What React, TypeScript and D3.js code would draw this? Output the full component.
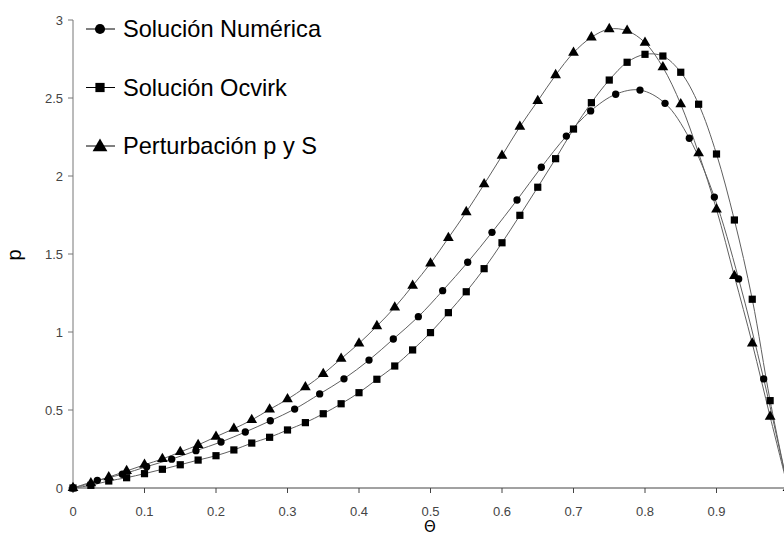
import { useEffect, useRef } from "react";
import * as d3 from "d3";

// x positions of the numeric solution (30 nodes)
const xNumerica = [0, 0.034, 0.069, 0.103, 0.138, 0.172, 0.207, 0.241, 0.276, 0.31,
  0.345, 0.379, 0.414, 0.448, 0.483, 0.517, 0.552, 0.586, 0.621, 0.655,
  0.69, 0.724, 0.759, 0.793, 0.828, 0.862, 0.897, 0.931, 0.966, 1];
const pNumerica = [0, 0.049, 0.088, 0.137, 0.185, 0.239, 0.295, 0.359, 0.431, 0.506,
  0.603, 0.7, 0.82, 0.955, 1.098, 1.265, 1.447, 1.639, 1.846, 2.056,
  2.256, 2.417, 2.524, 2.551, 2.466, 2.242, 1.865, 1.34, 0.699, 0];

// x positions of the other two series (41 nodes)
const xFine = [0, 0.025, 0.05, 0.075, 0.1, 0.125, 0.15, 0.175, 0.2, 0.225,
  0.25, 0.275, 0.3, 0.325, 0.35, 0.375, 0.4, 0.425, 0.45, 0.475,
  0.5, 0.525, 0.55, 0.575, 0.6, 0.625, 0.65, 0.675, 0.7, 0.725,
  0.75, 0.775, 0.8, 0.825, 0.85, 0.875, 0.9, 0.925, 0.95, 0.975, 1];
const pOcvirk = [0, 0.017, 0.045, 0.066, 0.092, 0.12, 0.149, 0.179, 0.207, 0.244,
  0.288, 0.325, 0.372, 0.419, 0.476, 0.54, 0.611, 0.697, 0.782, 0.885,
  0.996, 1.124, 1.258, 1.406, 1.572, 1.748, 1.928, 2.111, 2.301, 2.47,
  2.615, 2.729, 2.78, 2.769, 2.665, 2.46, 2.141, 1.718, 1.21, 0.56, 0];
const pPerturb = [0, 0.031, 0.07, 0.109, 0.149, 0.186, 0.231, 0.276, 0.329, 0.38,
  0.436, 0.504, 0.569, 0.646, 0.731, 0.829, 0.927, 1.038, 1.158, 1.297,
  1.44, 1.603, 1.769, 1.947, 2.13, 2.316, 2.481, 2.647, 2.79, 2.889,
  2.942, 2.931, 2.855, 2.697, 2.46, 2.146, 1.786, 1.359, 0.927, 0.457, 0];

const xTicks = [0, 0.1, 0.2, 0.3, 0.4, 0.5, 0.6, 0.7, 0.8, 0.9];
const yTicks = [0, 0.5, 1, 1.5, 2, 2.5, 3];
const legendNames = ["Solución Numérica", "Solución Ocvirk", "Perturbación p y S"];

type Pt = [number, number];
const zip = (xs: number[], ys: number[]): Pt[] => xs.map((x, i) => [x, ys[i]]);

export default function App() {
  const ref = useRef<SVGSVGElement>(null);

  useEffect(() => {
    const svg = d3.select(ref.current);
    svg.selectAll("*").remove();

    const x = d3.scaleLinear().domain([0, 1]).range([73, 788]);
    const y = d3.scaleLinear().domain([0, 3]).range([488, 20]);
    const font = "'Liberation Sans', Arial, sans-serif";

    // axes
    const xAxis = svg.append("g").attr("transform", `translate(0,${y(0)})`);
    xAxis.append("line").attr("x1", x(0)).attr("x2", 784).attr("stroke", "#444");
    xAxis.selectAll("g.t").data(xTicks).enter().append("g")
      .attr("transform", d => `translate(${x(d)},0)`)
      .each(function (d) {
        const g = d3.select(this);
        g.append("line").attr("y2", 5).attr("stroke", "#444");
        g.append("text").attr("y", 28).attr("text-anchor", "middle")
          .attr("font-family", font).attr("font-size", 13).attr("fill", "#444")
          .text(String(d));
      });

    const yAxis = svg.append("g").attr("transform", `translate(${x(0)},0)`);
    yAxis.append("line").attr("y1", y(3)).attr("y2", y(0)).attr("stroke", "#777");
    yAxis.selectAll("g.t").data(yTicks).enter().append("g")
      .attr("transform", d => `translate(0,${y(d)})`)
      .each(function (d) {
        const g = d3.select(this);
        g.append("line").attr("x2", -5).attr("stroke", "#777");
        g.append("text").attr("x", -10).attr("dy", "0.35em").attr("text-anchor", "end")
          .attr("font-family", font).attr("font-size", 13).attr("fill", "#444")
          .text(String(d));
      });

    svg.append("text").attr("transform", "translate(21,255) rotate(-90)")
      .attr("text-anchor", "middle").attr("font-family", font).attr("font-size", 20)
      .text("p");
    svg.append("text").attr("x", 430).attr("y", 532).attr("text-anchor", "middle")
      .attr("font-family", "'DejaVu Sans', sans-serif").attr("font-size", 15)
      .text("Θ");

    // series
    const line = d3.line<Pt>().x(d => x(d[0])).y(d => y(d[1])).curve(d3.curveCatmullRom);
    const plot = svg.append("g");
    const series = [zip(xNumerica, pNumerica), zip(xFine, pOcvirk), zip(xFine, pPerturb)];
    const shapes = [d3.symbolCircle, d3.symbolSquare, d3.symbolTriangle];
    const sizes = [42, 52, 50];
    const bigSizes = [80, 85, 95];

    series.forEach(data => {
      plot.append("path").attr("d", line(data)).attr("fill", "none")
        .attr("stroke", "#606060").attr("stroke-width", 1);
    });
    series.forEach((data, k) => {
      plot.selectAll(`path.m${k}`).data(data).enter().append("path")
        .attr("class", `m${k}`)
        .attr("transform", d => `translate(${x(d[0])},${y(d[1])})`)
        .attr("d", d3.symbol().type(shapes[k]).size(sizes[k])()!)
        .attr("fill", "#000");
    });

    // legend
    const legend = svg.append("g");
    legendNames.forEach((name, k) => {
      const cy = 29 + k * 58.5;
      legend.append("line").attr("x1", 86).attr("x2", 115).attr("y1", cy).attr("y2", cy)
        .attr("stroke", "#000");
      legend.append("path").attr("transform", `translate(100,${cy + (k === 2 ? 1 : 0)})`)
        .attr("d", d3.symbol().type(shapes[k]).size(bigSizes[k])()!).attr("fill", "#000");
      legend.append("text").attr("x", 123).attr("y", cy).attr("dy", "0.36em")
        .attr("font-family", font).attr("font-size", 23.6).attr("fill", "#000").text(name);
    });
  }, []);

  return (
    <div style={{ position: "fixed", left: 0, top: 0 }}>
      <svg ref={ref} width={784} height={537} style={{ display: "block", background: "#fff" }} />
    </div>
  );
}
